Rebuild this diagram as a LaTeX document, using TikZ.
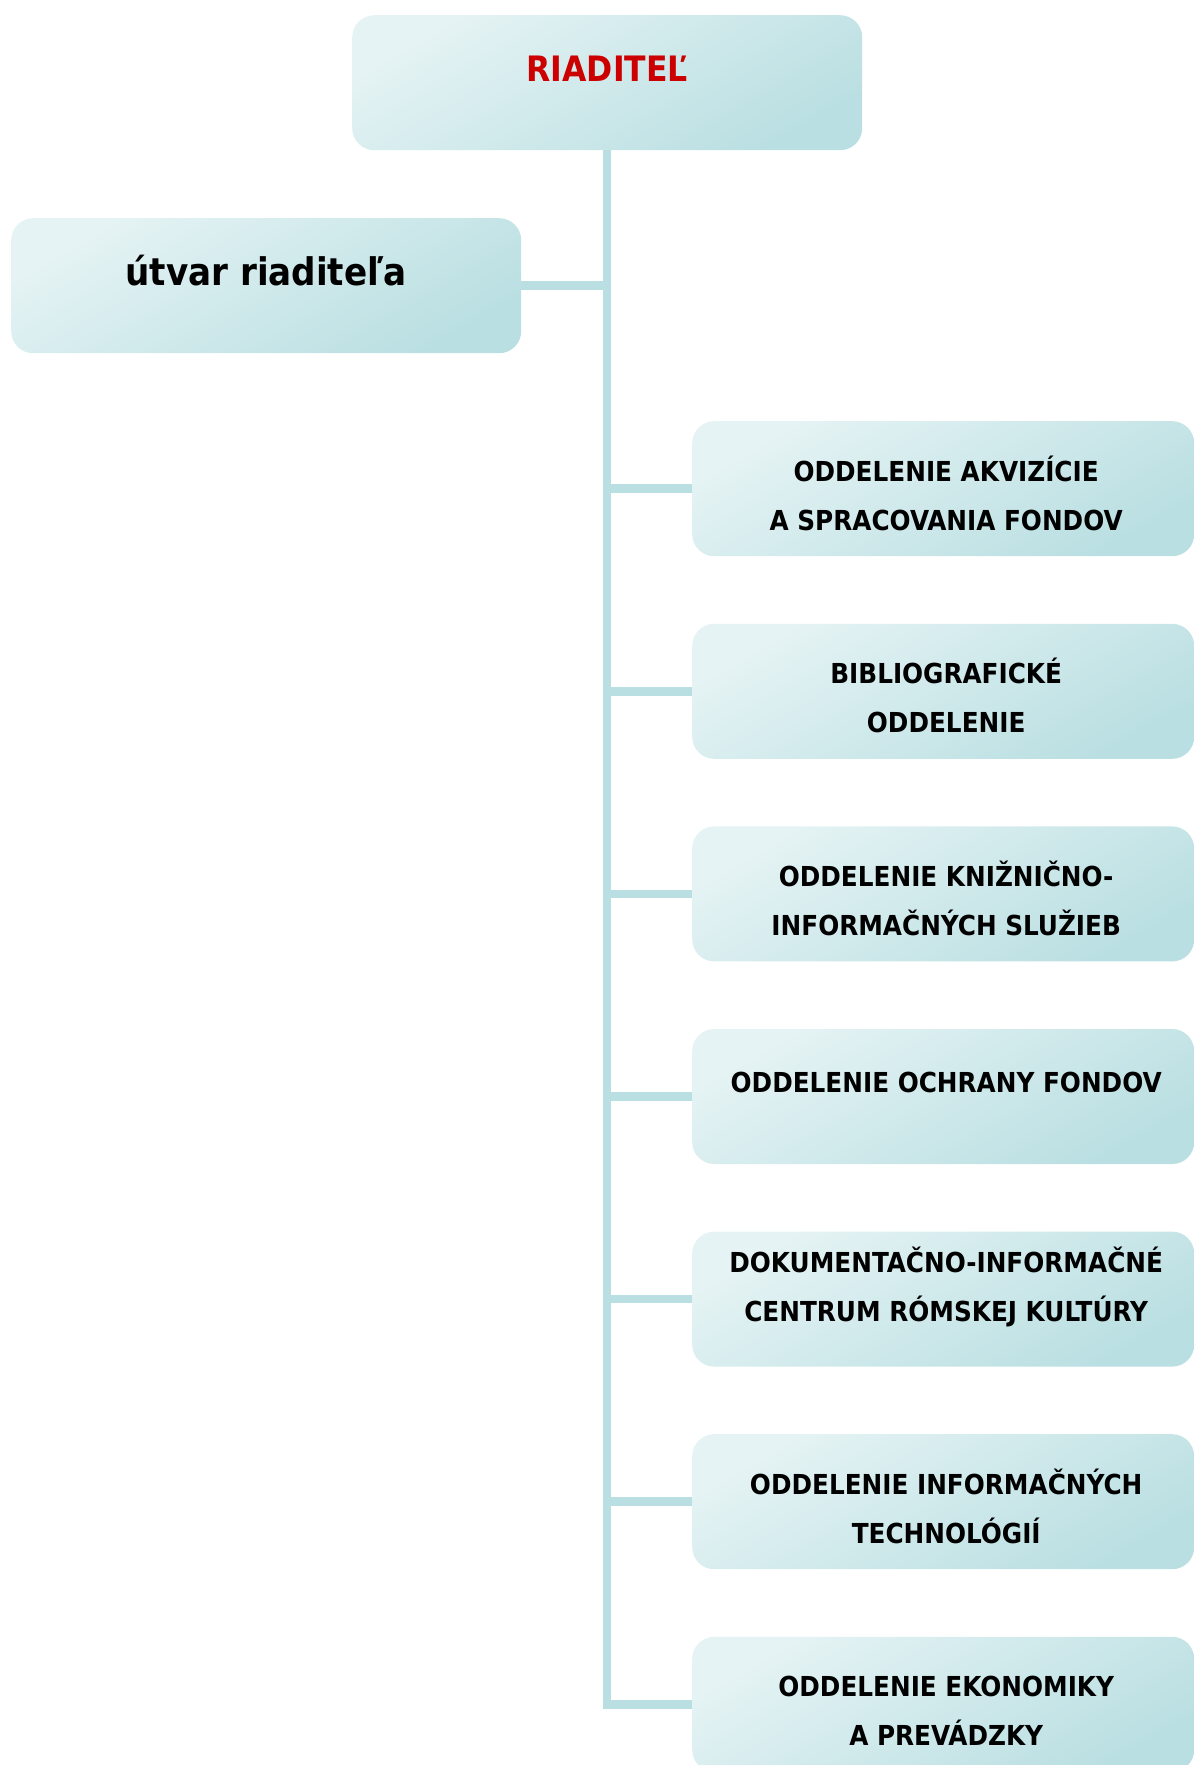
\documentclass[tikz,border=0pt]{standalone}
\usepackage{fontspec}
\newfontfamily\cf{DejaVu Sans Condensed Bold}
\usetikzlibrary{calc}
\definecolor{boxlight}{HTML}{E5F3F4}
\definecolor{boxmid}{HTML}{DCEEF0}
\definecolor{boxdark}{HTML}{BADFE2}
\definecolor{conn}{HTML}{B9DFE2}
\definecolor{redtxt}{HTML}{CC0000}
\begin{document}
\begin{tikzpicture}[x=1pt,y=1pt,
  orgbox/.style={rectangle, rounded corners=22pt, minimum width=510pt, minimum height=135pt, inner sep=0pt,
    left color=boxlight, middle color=boxmid, right color=boxdark, shading angle=30, draw=none},
  rbox/.style={orgbox, minimum width=502pt, anchor=north west},
  link/.style={line width=8.5pt, draw=conn},
  lbl/.style={anchor=base, align=center, inner sep=0pt, font=\cf\fontsize{27.5}{49}\selectfont, text=black},
]
\useasboundingbox (0,0) rectangle (1194,-1765);
% boxes
\node[orgbox, anchor=north west] (dir) at (352,-15) {};
\node[orgbox, anchor=north west] (util) at (11,-218) {};
\node[rbox] (b1) at (692,-421) {};
\node[rbox] (b2) at (692,-623.6) {};
\node[rbox] (b3) at (692,-826.2) {};
\node[rbox] (b4) at (692,-1028.8) {};
\node[rbox] (b5) at (692,-1231.4) {};
\node[rbox] (b6) at (692,-1434) {};
\node[rbox] (b7) at (692,-1636.6) {};
% connectors
\draw[link] (dir.south) |- (b7.west);
\draw[link] (util.east) -- (util.east -| dir.south);
\foreach \b in {b1,b2,b3,b4,b5,b6}{
  \draw[link] (\b.west) -- (\b.west -| dir.south);
}
% labels
\node[anchor=base, inner sep=0pt, font=\cf\fontsize{35}{42}\selectfont, text=redtxt] (tdir) at ($(dir.north)+(0,-66)$) {RIADITEĽ};
\node[anchor=base, inner sep=0pt, font=\cf\fontsize{38}{46}\selectfont, text=black] (tutil) at ($(util.north)+(0,-67)$) {útvar riaditeľa};
\node[lbl] (t1) at ($(b1.north)+(3,-109)$) {ODDELENIE AKVIZÍCIE\\A SPRACOVANIA FONDOV};
\node[lbl] (t2) at ($(b2.north)+(3,-109)$) {BIBLIOGRAFICKÉ\\ODDELENIE};
\node[lbl] (t3) at ($(b3.north)+(3,-109)$) {ODDELENIE KNIŽNIČNO-\\INFORMAČNÝCH SLUŽIEB};
\node[lbl] (t4) at ($(b4.north)+(3,-64)$) {ODDELENIE OCHRANY FONDOV};
\node[lbl] (t5) at ($(b5.north)+(3,-90)$) {DOKUMENTAČNO-INFORMAČNÉ\\CENTRUM RÓMSKEJ KULTÚRY};
\node[lbl] (t6) at ($(b6.north)+(3,-109)$) {ODDELENIE INFORMAČNÝCH\\TECHNOLÓGIÍ};
\node[lbl] (t7) at ($(b7.north)+(3,-109)$) {ODDELENIE EKONOMIKY\\A PREVÁDZKY};
\end{tikzpicture}
\end{document}
